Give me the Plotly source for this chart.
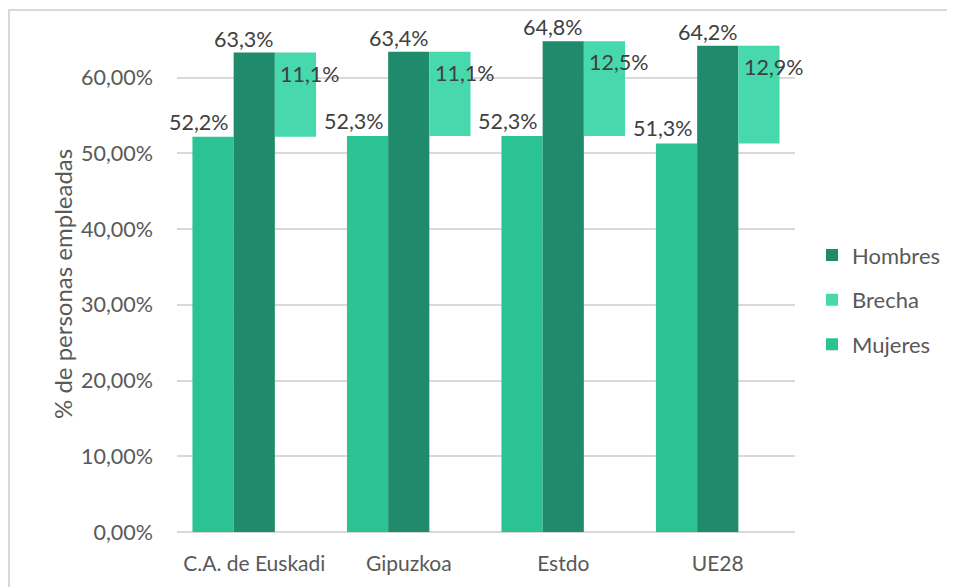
import plotly.graph_objects as go

categories = ["C.A. de Euskadi", "Gipuzkoa", "Estdo", "UE28"]
mujeres = [0.522, 0.523, 0.523, 0.513]
hombres = [0.633, 0.634, 0.648, 0.642]
brecha = [0.111, 0.111, 0.125, 0.129]
yticks = [0, 0.1, 0.2, 0.3, 0.4, 0.5, 0.6]
ytick_labels = ["0,00%", "10,00%", "20,00%", "30,00%", "40,00%", "50,00%", "60,00%"]
y_title = "% de personas empleadas"

C_MUJ = "#2BC394"
C_HOM = "#1F8B6C"
C_BRE = "#48D8AD"
FONT = "Lato"
TXT = "#404040"
TICK = "#595959"

W, H = 955, 587
ML, MR, MT, MB = 169, 168, 9, 63
PW, PH = W - ML - MR, H - MT - MB


def pct(v):
    return f"{v*100:.1f}%".replace(".", ",")


fig = go.Figure()
fig.add_trace(go.Bar(name="Mujeres", x=categories, y=mujeres, marker_color=C_MUJ,
                     marker_line_width=0, legendgroup="m", legendrank=3))
fig.add_trace(go.Bar(name="Hombres", x=categories, y=hombres, marker_color=C_HOM,
                     marker_line_width=0, legendgroup="h", legendrank=1))
fig.add_trace(go.Bar(name="Brecha", x=categories, y=brecha, base=mujeres, marker_color=C_BRE,
                     marker_line_width=0, legendgroup="b", legendrank=2))

annotations = []
bw = 41  # approx bar width in px
LBL = 21.5
for i, c in enumerate(categories):
    annotations.append(dict(x=c, y=mujeres[i], text=pct(mujeres[i]), showarrow=False,
                            xshift=-bw - 14, yshift=15, font=dict(family=FONT, size=LBL, color=TXT)))
    annotations.append(dict(x=c, y=hombres[i], text=pct(hombres[i]), showarrow=False,
                            xshift=-10, yshift=14, font=dict(family=FONT, size=LBL, color=TXT)))
    annotations.append(dict(x=c, y=hombres[i], text=pct(brecha[i]), showarrow=False,
                            xshift=bw + 15, yshift=-21, font=dict(family=FONT, size=LBL, color=TXT)))

# y-axis title as rotated annotation (screen centre ~ x=62, y=284; page offset 8px)
annotations.append(dict(xref="paper", yref="paper",
                        x=(62 - 8 - ML) / PW, y=1 - (284 - 8 - MT) / PH,
                        text=y_title, textangle=-90, showarrow=False,
                        xanchor="center", yanchor="middle",
                        font=dict(family=FONT, size=24, color=TICK)))

# outer frame: left edge at fig x=0, top at fig y=2
fx0 = (1 - ML) / PW
fy1 = 1 + (MT - 2) / PH

fig.update_layout(
    width=W, height=H,
    margin=dict(l=ML, r=MR, t=MT, b=MB),
    paper_bgcolor="white", plot_bgcolor="white",
    barmode="group", bargap=0.2, bargroupgap=0,
    font=dict(family=FONT, size=21, color=TICK),
    annotations=annotations,
    legend=dict(x=1 + (804 - (W - MR)) / PW, y=0.451, yanchor="middle", xanchor="left",
                font=dict(family=FONT, size=22, color=TICK),
                tracegroupgap=13, itemwidth=30),
    shapes=[dict(type="rect", xref="paper", yref="paper", x0=fx0, x1=1.5, y0=-0.5, y1=fy1,
                 line=dict(color="#d9d9d9", width=2), fillcolor="rgba(0,0,0,0)", layer="above")],
)
fig.update_yaxes(range=[0, 0.68], tickvals=yticks, ticktext=ytick_labels,
                 showgrid=True, gridcolor="#d9d9d9", gridwidth=1.5,
                 zeroline=True, zerolinecolor="#d9d9d9", zerolinewidth=1.5,
                 ticklabelstandoff=23, tickfont=dict(family=FONT, size=21.5, color=TICK))
fig.update_xaxes(range=[-0.5, 3.5], showgrid=False,
                 tickfont=dict(family=FONT, size=21, color=TICK),
                 ticklabelstandoff=17)

fig.write_html("out.html")
